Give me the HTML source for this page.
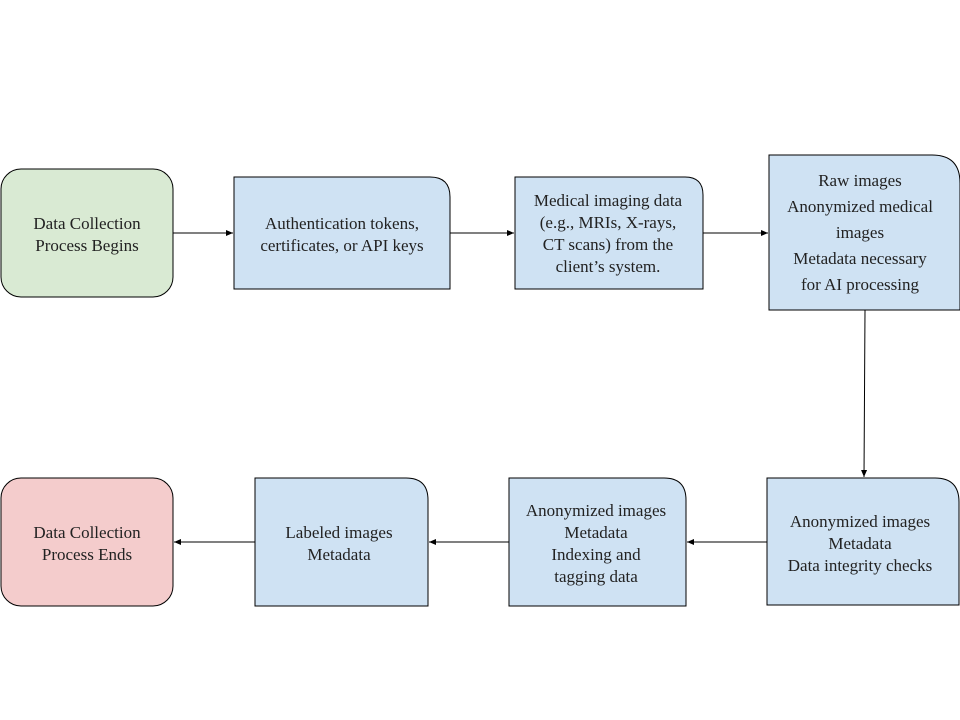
<!DOCTYPE html>
<html><head><meta charset="utf-8"><style>
html,body{margin:0;padding:0;background:#fff;width:960px;height:720px;overflow:hidden}
text{font-family:"Liberation Serif","DejaVu Serif",serif !important;font-size:17px;fill:#222;text-anchor:middle}
</style></head><body>
<svg width="960" height="720" viewBox="0 0 960 720" xmlns="http://www.w3.org/2000/svg" font-family="Liberation Serif, DejaVu Serif, serif" font-size="17">
<defs><marker id="a" markerWidth="8" markerHeight="8" refX="7" refY="3" orient="auto" markerUnits="userSpaceOnUse"><path d="M0,0 L7,3 L0,6 z" fill="#000"/></marker></defs>
<g stroke="#000" stroke-width="1">
<rect x="1" y="169" width="172" height="128" rx="20" fill="#d9ead3"/>
<path d="M234,177 H430 Q450,177 450,197 V289 H234 Z" fill="#cfe2f3"/>
<path d="M515,177 H685 Q703,177 703,195 V289 H515 Z" fill="#cfe2f3"/>
<path d="M769,155 H932 Q960,155 960,183 V310 H769 Z" fill="#cfe2f3"/>
<path d="M767,478 H935 Q959,478 959,502 V605 H767 Z" fill="#cfe2f3"/>
<path d="M509,478 H664 Q686,478 686,500 V606 H509 Z" fill="#cfe2f3"/>
<path d="M255,478 H406 Q428,478 428,500 V606 H255 Z" fill="#cfe2f3"/>
<rect x="1" y="478" width="172" height="128" rx="20" fill="#f4cccc"/>
<line x1="173" y1="233" x2="233" y2="233" marker-end="url(#a)"/>
<line x1="450" y1="233" x2="514" y2="233" marker-end="url(#a)"/>
<line x1="703" y1="233" x2="768" y2="233" marker-end="url(#a)"/>
<line x1="865" y1="310" x2="864" y2="477" marker-end="url(#a)"/>
<line x1="767" y1="542" x2="687" y2="542" marker-end="url(#a)"/>
<line x1="509" y1="542" x2="429" y2="542" marker-end="url(#a)"/>
<line x1="255" y1="542" x2="174" y2="542" marker-end="url(#a)"/>
</g>
<text x="87" y="229">Data Collection</text><text x="87" y="251">Process Begins</text>
<text x="342" y="229">Authentication tokens,</text><text x="342" y="251">certificates, or API keys</text>
<text x="608" y="206">Medical imaging data</text><text x="608" y="228">(e.g., MRIs, X-rays,</text><text x="608" y="250">CT scans) from the</text><text x="608" y="272">client’s system.</text>
<text x="860" y="186">Raw images</text><text x="860" y="212">Anonymized medical</text><text x="860" y="238">images</text><text x="860" y="264">Metadata necessary</text><text x="860" y="290">for AI processing</text>
<text x="860" y="527">Anonymized images</text><text x="860" y="549">Metadata</text><text x="860" y="571">Data integrity checks</text>
<text x="596" y="516">Anonymized images</text><text x="596" y="538">Metadata</text><text x="596" y="560">Indexing and</text><text x="596" y="582">tagging data</text>
<text x="339" y="538">Labeled images</text><text x="339" y="560">Metadata</text>
<text x="87" y="538">Data Collection</text><text x="87" y="560">Process Ends</text>
</svg>
</body></html>
